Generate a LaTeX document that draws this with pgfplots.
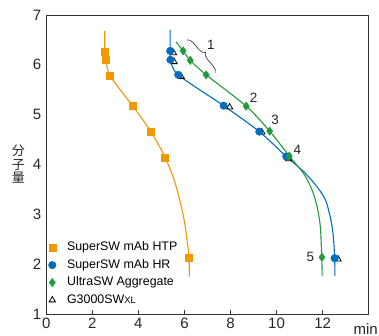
\documentclass[border=0pt]{standalone}
\usepackage{pgfplots}
\pgfplotsset{compat=1.18}
\usepackage{fontspec}
\setmainfont{Liberation Sans}
\newfontfamily\cjk{Noto Sans CJK JP}
\usetikzlibrary{decorations.pathreplacing}
\definecolor{corange}{RGB}{243,152,0}
\definecolor{cblue}{RGB}{0,110,190}
\definecolor{cgreen}{RGB}{34,155,60}
\definecolor{caxis}{RGB}{50,50,50}
\begin{document}
\begin{tikzpicture}
\begin{axis}[
  scale only axis,
  width=322.4bp, height=299bp,
  xmin=0, xmax=14, ymin=1, ymax=7,
  xtick={0,2,...,12}, ytick={1,2,...,7},
  tick align=inside,
  xtick pos=bottom, ytick pos=left,
  major tick length=4bp,
  y tick style={draw=none},
  axis line style={caxis, line width=0.9bp},
  tick style={caxis, line width=0.7bp},
  /pgf/number format/assume math mode=true,
  tick label style={font=\fontsize{15bp}{17bp}\selectfont, text=black!85},
  xticklabel style={yshift=-0.5bp},
  yticklabel style={xshift=-1.5bp},
  legend style={draw=none, fill=none, at={(rel axis cs:0,0)}, anchor=south west,
    xshift=-1bp, yshift=3bp, font=\fontsize{12.4bp}{14bp}\selectfont,
    nodes={text height=10bp, text depth=3.5bp, inner ysep=2bp},
    /tikz/every odd column/.append style={column sep=9bp}},
  legend cell align=left,
  legend image code/.code={\draw[#1] plot coordinates {(0.2cm,0cm)};},
  clip=false,
]
% legend images
\addlegendimage{only marks, mark=square*, mark size=3.5bp, color=corange}
\addlegendentry{SuperSW mAb HTP}
\addlegendimage{only marks, mark=*, mark size=3.8bp, color=cblue}
\addlegendentry{SuperSW mAb HR}
\addlegendimage{only marks, mark=diamond*, mark size=4.2bp, color=cgreen}
\addlegendentry{UltraSW Aggregate}
\addlegendimage{only marks, mark=triangle, mark size=3.6bp, mark options={black, line width=0.8bp}}
\addlegendentry{G3000SW{\fontsize{9.5bp}{11bp}\selectfont XL}}

% curves
\addplot[forget plot, corange, line width=1.1bp, smooth, tension=0.5] coordinates {
(2.54,6.68)(2.54,6.26)(2.60,6.10)(2.77,5.78)(3.76,5.17)(4.54,4.66)(5.16,4.14)(5.60,3.62)(5.96,2.95)(6.13,2.42)(6.20,2.13)(6.21,1.75)};
\addplot[forget plot, cblue, line width=1.1bp, smooth, tension=0.5] coordinates {
(5.38,6.70)(5.38,6.28)(5.40,6.10)(5.73,5.80)(7.70,5.18)(9.25,4.66)(10.42,4.16)(11.17,3.86)(11.76,3.55)(12.12,3.29)(12.33,2.95)(12.45,2.62)(12.52,2.15)(12.53,1.76)};
\addplot[forget plot, cgreen, line width=1.1bp, smooth, tension=0.5] coordinates {
(5.64,6.46)(5.94,6.28)(6.25,6.09)(6.94,5.80)(8.68,5.17)(9.70,4.67)(10.55,4.17)(11.17,3.82)(11.54,3.49)(11.76,3.15)(11.90,2.75)(11.96,2.14)(11.98,1.76)};

% markers
\addplot[forget plot, only marks, mark=triangle, mark size=3.6bp, mark options={black, line width=0.8bp}] coordinates {
(5.52,6.24)(5.55,6.06)(5.86,5.76)(7.96,5.15)(9.36,4.65)(10.52,4.11)(12.67,2.10)};
\addplot[forget plot, only marks, mark=square*, mark size=3.5bp, color=corange] coordinates {
(2.54,6.26)(2.60,6.10)(2.77,5.78)(3.76,5.17)(4.54,4.66)(5.16,4.14)(6.20,2.13)};
\addplot[forget plot, only marks, mark=*, mark size=3.8bp, color=cblue] coordinates {
(5.38,6.28)(5.39,6.10)(5.73,5.80)(7.70,5.18)(9.25,4.66)(10.42,4.16)(12.52,2.12)};
\addplot[forget plot, only marks, mark=diamond*, mark size=4.2bp, color=cgreen] coordinates {
(5.94,6.28)(6.25,6.09)(6.94,5.80)(8.68,5.17)(9.70,4.67)(10.55,4.17)(11.97,2.14)};

% annotations
\draw[black!85, line width=0.6bp, decorate, decoration={brace, amplitude=6bp}] (axis cs:6.10,6.50) -- (axis cs:7.33,5.84);
\begin{scope}[every node/.style={font=\fontsize{13.5bp}{15bp}\selectfont, text=black!85, inner sep=0pt}]
\node at (axis cs:7.15,6.40) {1};
\node at (axis cs:9.00,5.33) {2};
\node at (axis cs:9.94,4.89) {3};
\node at (axis cs:10.90,4.30) {4};
\node at (axis cs:11.47,2.15) {5};
\end{scope}
\node[font=\fontsize{15bp}{17bp}\selectfont, text=black!85, anchor=base] at ([yshift=-20bp]axis cs:13.87,1) {min};
\node[font=\cjk\fontsize{13bp}{13.5bp}\selectfont, text=black!85, align=center, inner sep=0pt] at ([xshift=-28bp]rel axis cs:0,0.5) {分\\子\\量};
\end{axis}
\pgfresetboundingbox
\path[use as bounding box] ([xshift=-46.3bp,yshift=-22bp]current axis.south west) rectangle ([xshift=10.3bp,yshift=15bp]current axis.north east);
\end{tikzpicture}
\end{document}
